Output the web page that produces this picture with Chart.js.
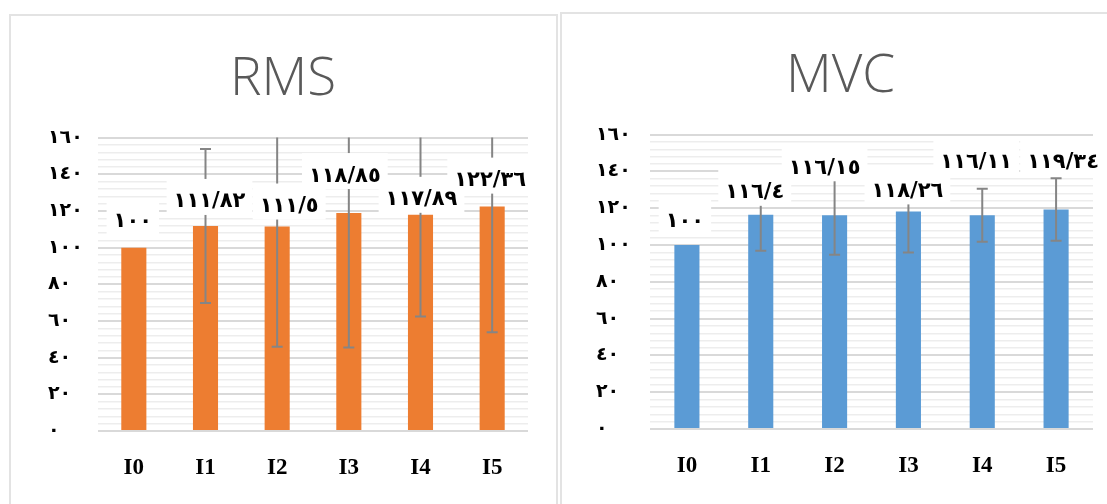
<!DOCTYPE html>
<html>
<head>
<meta charset="utf-8">
<script src="https://cdn.jsdelivr.net/npm/chart.js@4.4.1/dist/chart.umd.min.js"></script>
<style>
  html, body { margin: 0; padding: 0; background: #ffffff; width: 1107px; height: 504px; overflow: hidden; }
  .panel { position: absolute; background: #fff; border: 2px solid #e3e3e3; box-sizing: border-box; }
  #p1 { left: 9px; top: 14px; width: 549px; height: 500px; }
  #p2 { left: 560px; top: 12px; width: 560px; height: 500px; }
  canvas { position: absolute; left: 0; top: 0; }
</style>
</head>
<body>
<div class="panel" id="p1"><canvas id="c1"></canvas></div>
<div class="panel" id="p2"><canvas id="c2"></canvas></div>
<script>
// ---- data ----
const categories = ['I0', 'I1', 'I2', 'I3', 'I4', 'I5'];
const rmsValues = [100, 111.82, 111.5, 118.85, 117.89, 122.36];
const rmsErrors = [0, 42, 65.5, 73.3, 55.4, 68.5];
const mvcValues = [100, 116.4, 116.15, 118.26, 116.11, 119.34];
const mvcErrors = [0, 19.5, 21.5, 22.3, 14.4, 17];
const yTickLabels = ['٠', '٢٠', '٤٠', '٦٠', '٨٠', '١٠٠', '١٢٠', '١٤٠', '١٦٠'];
const chartTitles = ['RMS', 'MVC'];

const arabicDigits = ['٠','١','٢','٣','٤','٥','٦','٧','٨','٩'];
function toArabic(v) {
  return String(v).split('').map(ch => ch === '.' ? '/' : (ch >= '0' && ch <= '9' ? arabicDigits[+ch] : ch)).join('');
}

const overlayPlugin = {
  id: 'overlay',
  afterLayout(chart, args, opts) {
    const tb = chart.titleBlock;
    if (tb && opts.titleShift) { tb.left += opts.titleShift; tb.right += opts.titleShift; }
  },
  afterDatasetsDraw(chart, args, opts) {
    const ctx = chart.ctx;
    const area = chart.chartArea;
    const y = chart.scales.y;
    const meta = chart.getDatasetMeta(0);
    const values = chart.data.datasets[0].data;
    const errs = opts.errors;
    // error bars
    ctx.save();
    ctx.strokeStyle = '#858585';
    ctx.lineWidth = 2;
    values.forEach((v, i) => {
      const e = errs[i];
      if (!e) return;
      const x = meta.data[i].x;
      const topV = y.getPixelForValue(v + e);
      const botV = y.getPixelForValue(v - e);
      const top = Math.max(topV, area.top);
      const bot = Math.min(botV, area.bottom);
      ctx.beginPath();
      ctx.moveTo(x, top); ctx.lineTo(x, bot);
      if (topV >= area.top) { ctx.moveTo(x - 5.5, topV); ctx.lineTo(x + 5.5, topV); }
      if (botV <= area.bottom) { ctx.moveTo(x - 5.5, botV); ctx.lineTo(x + 5.5, botV); }
      ctx.stroke();
    });
    // data labels (white boxed): boxes first, then texts
    ctx.font = 'bold 21px "DejaVu Sans"';
    ctx.textAlign = 'center';
    ctx.textBaseline = 'middle';
    const items = values.map((v, i) => {
      const bar = meta.data[i];
      const txt = toArabic(v);
      return { txt, cx: bar.x + opts.dx[i], cy: bar.y + opts.dy[i], w: ctx.measureText(txt).width + 14 };
    });
    ctx.fillStyle = '#ffffff';
    items.forEach(it => ctx.fillRect(it.cx - it.w / 2, it.cy - 21, it.w, 36));
    ctx.fillStyle = '#000000';
    items.forEach(it => ctx.fillText(it.txt, it.cx, it.cy + 2));
    ctx.restore();
  }
};

function makeChart(id, w, h, title, values, errors, color, pad, yW, titlePad, titleShift, labelDx, labelDy, barPct) {
  const cv = document.getElementById(id);
  cv.width = w; cv.height = h;
  cv.style.width = w + 'px'; cv.style.height = h + 'px';
  return new Chart(cv, {
    type: 'bar',
    data: {
      labels: categories,
      datasets: [{ data: values, backgroundColor: color, borderWidth: 0, barPercentage: barPct, categoryPercentage: 1 }]
    },
    plugins: [overlayPlugin],
    options: {
      responsive: false,
      animation: false,
      devicePixelRatio: 1,
      layout: { padding: { left: pad.left, right: pad.right, top: 0, bottom: 0 } },
      plugins: {
        legend: { display: false },
        tooltip: { enabled: false },
        title: {
          display: true, text: title, color: '#595959',
          font: { family: '"Open Sans", "Noto Sans", sans-serif', size: 53, weight: '300', lineHeight: 1.2 },
          padding: titlePad
        },
        overlay: { errors: errors, dx: labelDx, dy: labelDy, titleShift: titleShift }
      },
      scales: {
        x: {
          grid: { display: false, drawTicks: false },
          border: { display: false },
          ticks: { color: '#000', font: { family: '"Liberation Serif", serif', size: 23, weight: 'bold', lineHeight: 1.2 }, padding: 23 },
          afterFit: s => { s.height = pad.bottomAxis; }
        },
        y: {
          min: 0, max: 160,
          border: { display: false },
          grid: {
            drawTicks: false,
            color: c => (c.tick && c.tick.value % 20 === 0) ? '#d9d9d9' : '#ededed',
            lineWidth: c => (c.tick && c.tick.value % 20 === 0) ? 2 : 1.5
          },
          ticks: {
            stepSize: 4, autoSkip: false, crossAlign: 'far', color: '#000',
            font: { family: '"DejaVu Sans", sans-serif', size: 19, weight: 'bold' },
            callback: v => (v % 20 === 0) ? yTickLabels[v / 20] : ''
          },
          afterFit: s => { s.width = yW; }
        }
      }
    }
  });
}

// left panel canvas origin: (11,16)
makeChart('c1', 545, 488, chartTitles[0], rmsValues, rmsErrors, '#ED7D31',
  { left: 37, right: 28, bottomAxis: 73 }, 50, { top: 32, bottom: 26 }, -5,
  [-1, 4, 12, -4, 1, -2], [-28, -26, -22, -39, -17, -28], 0.35);
// right panel canvas origin: (562,14)
makeChart('c2', 546, 490, chartTitles[1], mvcValues, mvcErrors, '#5B9BD5',
  { left: 34, right: 15, bottomAxis: 75 }, 54, { top: 31, bottom: 26 }, -4,
  [-2, -6, -10, -1, -6, 7], [-25, -24, -49, -22, -55, -49], 0.34);
</script>
</body>
</html>
